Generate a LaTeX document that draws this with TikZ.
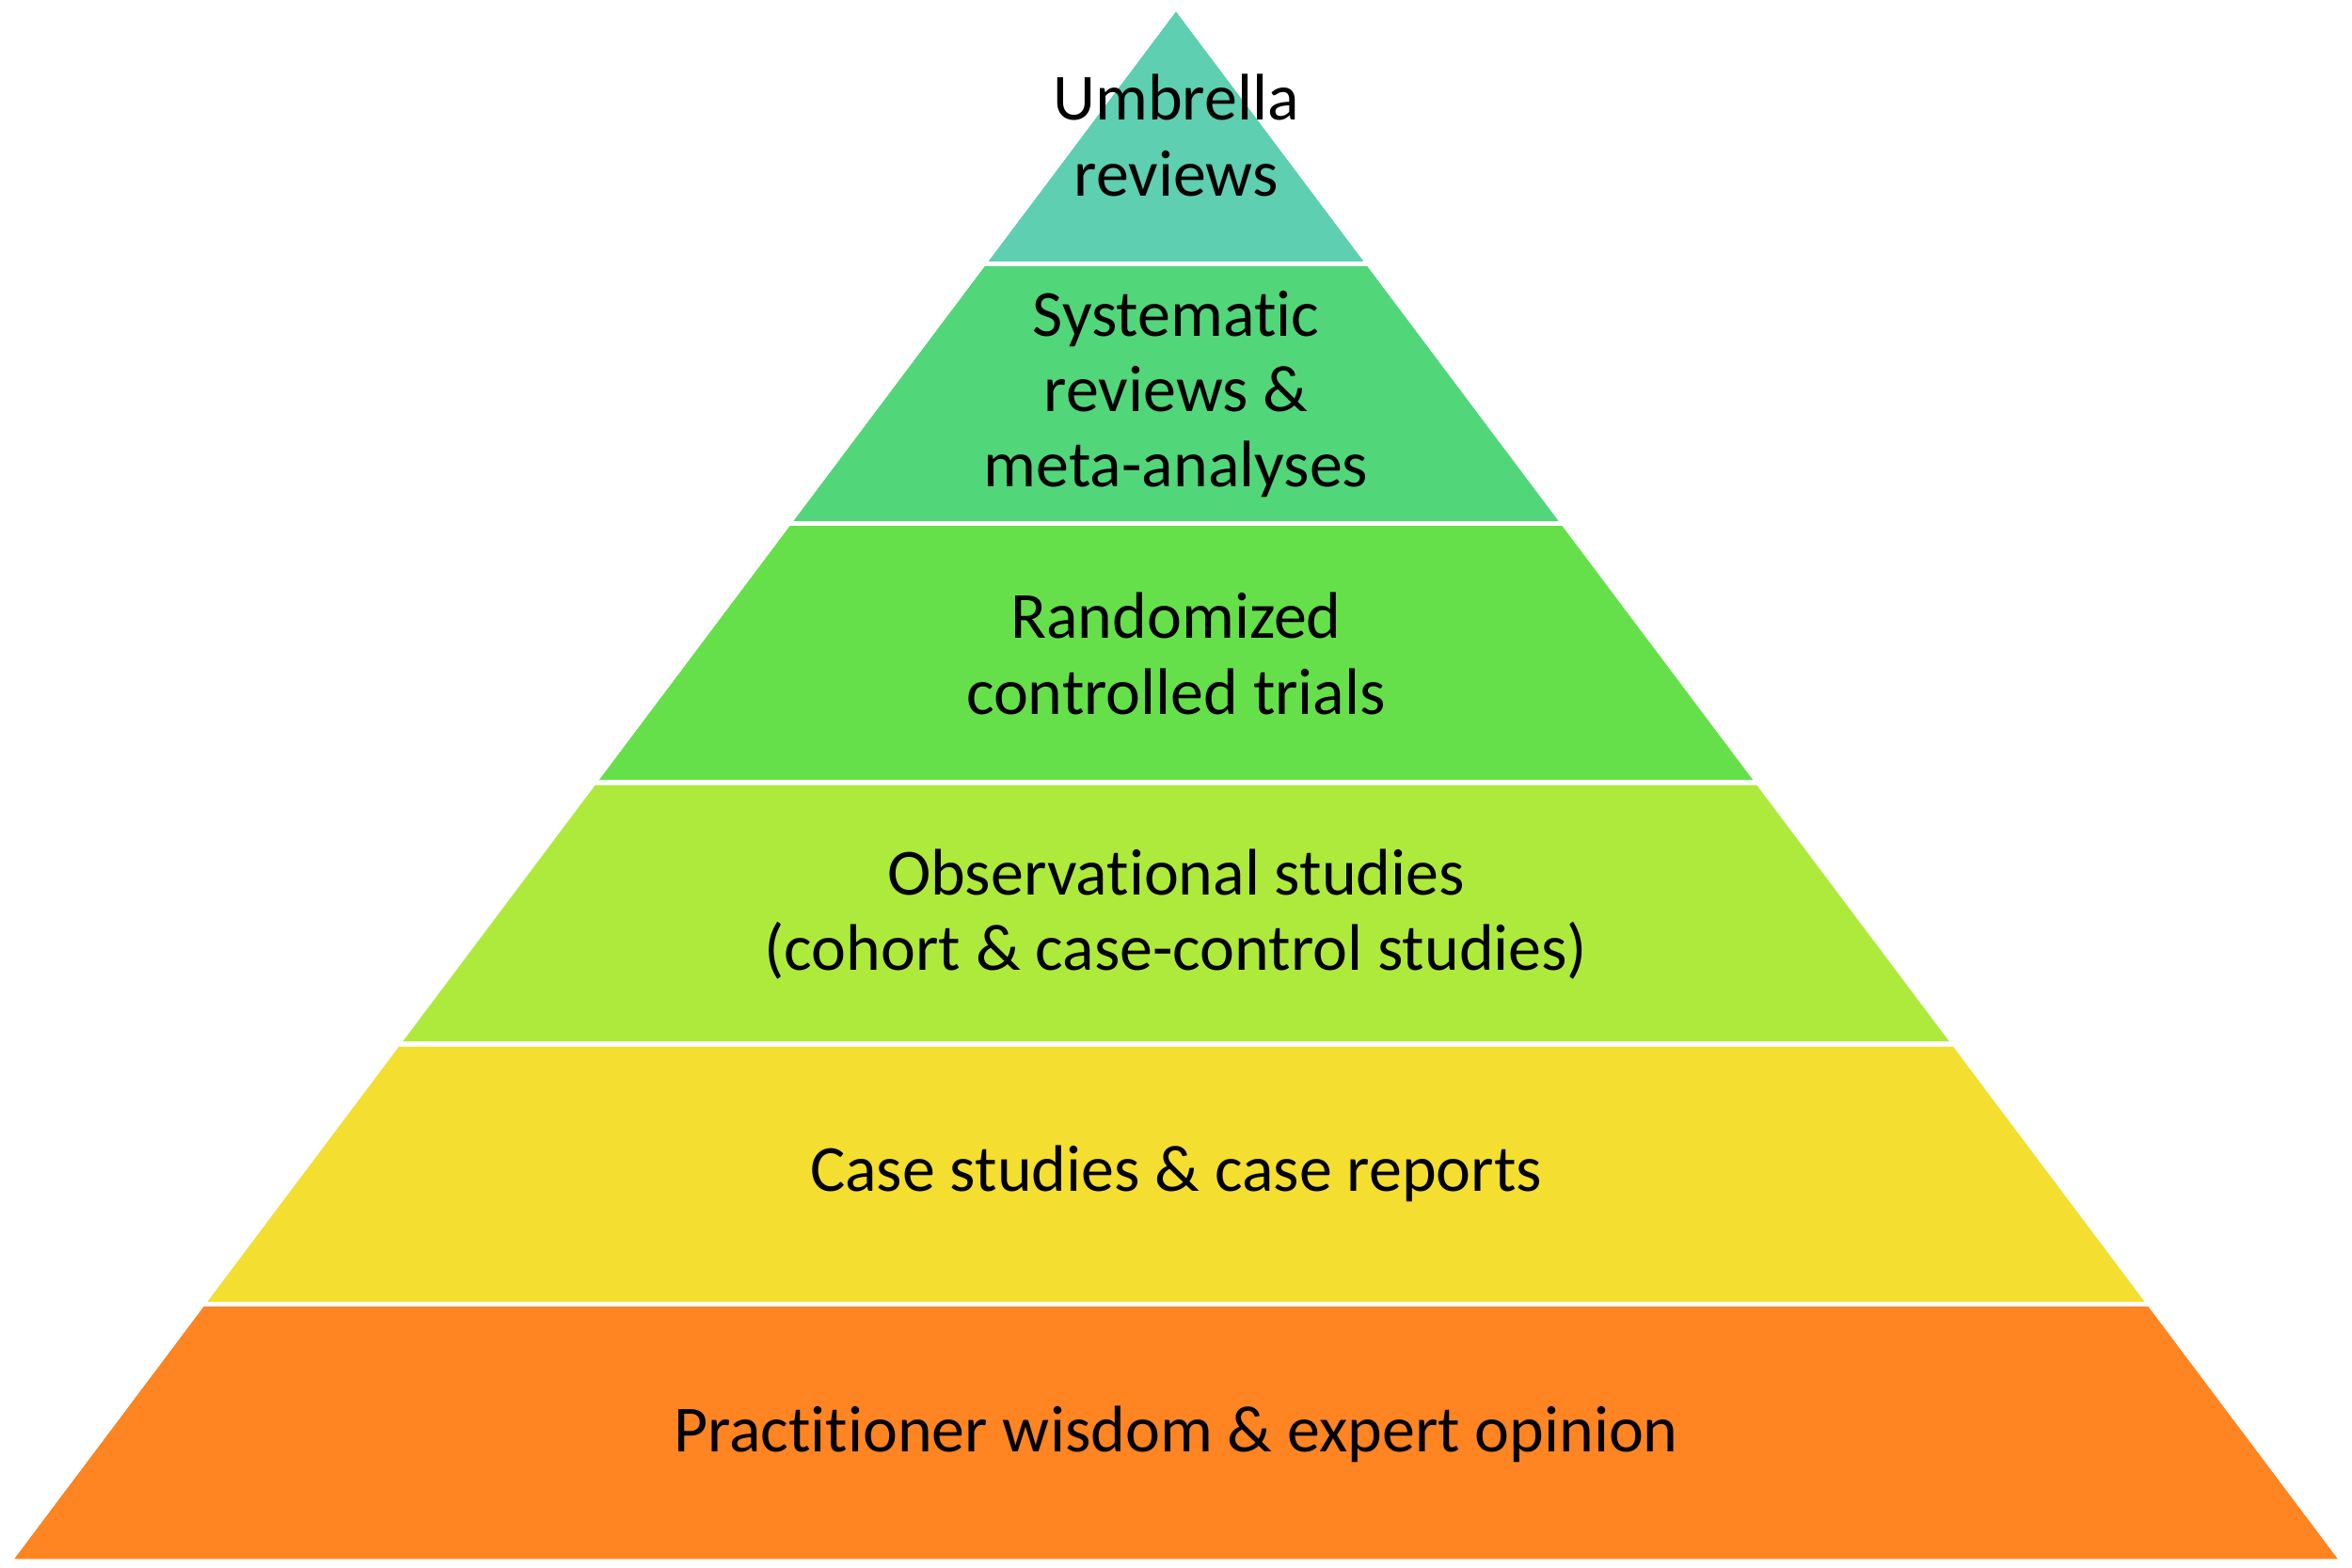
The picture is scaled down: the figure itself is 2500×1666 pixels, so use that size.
\documentclass[tikz,border=0pt]{standalone}
\usepackage{fontspec}
\setmainfont{Carlito}[Ligatures=NoCommon]
\usetikzlibrary{calc}
\definecolor{cA}{RGB}{94,207,177}
\definecolor{cB}{RGB}{82,214,122}
\definecolor{cC}{RGB}{102,224,74}
\definecolor{cD}{RGB}{174,234,60}
\definecolor{cE}{RGB}{244,222,47}
\definecolor{cF}{RGB}{255,132,34}
\tikzset{
  band/.style={draw=white, line width=1.3pt, line join=miter},
  lbl/.style={align=center, font=\fontsize{19.9}{22.8}\selectfont, text=black, inner sep=0pt}
}
\begin{document}
\begin{tikzpicture}[x=0.01cm,y=-0.01cm]
\useasboundingbox (0,0) rectangle (2500,1666);
\coordinate (A) at (1250,8);
\coordinate (BL) at (10,1660);
\coordinate (BR) at (2490,1660);
\foreach \name/\t in {1/0.16495, 2/0.33202, 3/0.49879, 4/0.66707, 5/0.83445, 6/1}{
  \coordinate (L\name) at ($(A)!\t!(BL)$);
  \coordinate (R\name) at ($(A)!\t!(BR)$);
}
\fill[band, fill=cA] (A) -- (R1) -- (L1) -- cycle;
\fill[band, fill=cB] (L1) -- (R1) -- (R2) -- (L2) -- cycle;
\fill[band, fill=cC] (L2) -- (R2) -- (R3) -- (L3) -- cycle;
\fill[band, fill=cD] (L3) -- (R3) -- (R4) -- (L4) -- cycle;
\fill[band, fill=cE] (L4) -- (R4) -- (R5) -- (L5) -- cycle;
\fill[band, fill=cF] (L5) -- (R5) -- (R6) -- (L6) -- cycle;
\draw[band] (A) -- (R1) -- (L1) -- cycle;
\draw[band] (L1) -- (R1) -- (R2) -- (L2) -- cycle;
\draw[band] (L2) -- (R2) -- (R3) -- (L3) -- cycle;
\draw[band] (L3) -- (R3) -- (R4) -- (L4) -- cycle;
\draw[band] (L4) -- (R4) -- (R5) -- (L5) -- cycle;
\draw[band] (L5) -- (R5) -- (R6) -- (L6) -- cycle;
\node[lbl] (t1) at (1250,144) {Umbrella\\reviews};
\node[lbl] (t2) at (1250,419) {Systematic\\reviews \&\\meta-analyses};
\node[lbl] (t3) at (1250,695) {Randomized\\controlled trials};
\node[lbl] (t4) at (1250,972) {Observational studies\\(cohort \& case-control studies)};
\node[lbl] (t5) at (1250,1248) {Case studies \& case reports};
\node[lbl] (t6) at (1250,1525) {Practitioner wisdom \& expert opinion};
\end{tikzpicture}
\end{document}
